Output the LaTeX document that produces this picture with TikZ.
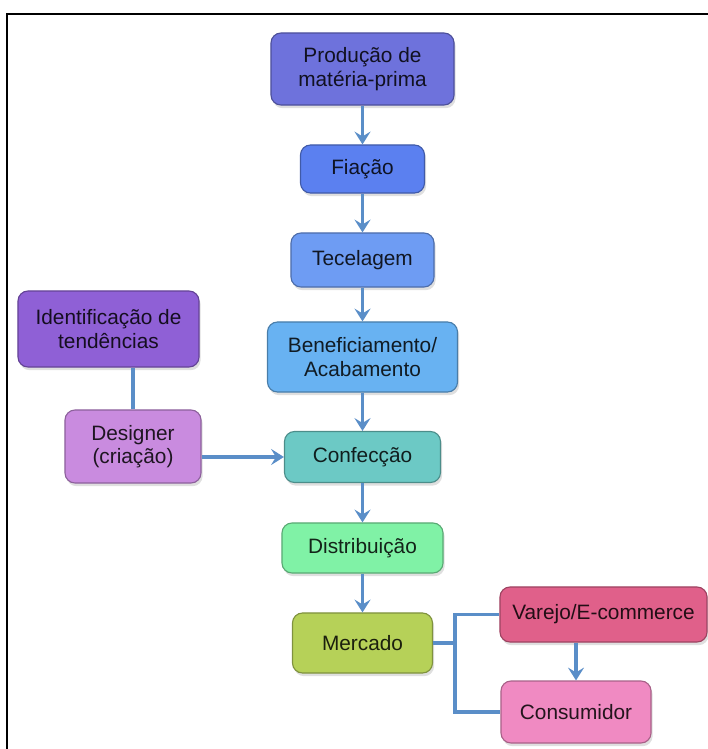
\documentclass[tikz,border=0pt]{standalone}
\usepackage{fontspec}
\setmainfont{Liberation Sans}
\usetikzlibrary{arrows.meta,shadows}

\definecolor{cprod}{HTML}{6E72DC}
\definecolor{cfia}{HTML}{5B80F0}
\definecolor{ctec}{HTML}{6E9CF3}
\definecolor{cben}{HTML}{68B2F2}
\definecolor{cconf}{HTML}{6CC9C5}
\definecolor{cdist}{HTML}{80F2A6}
\definecolor{cmerc}{HTML}{B6D158}
\definecolor{cvar}{HTML}{E0608A}
\definecolor{ccons}{HTML}{F08AC2}
\definecolor{cident}{HTML}{8F60D6}
\definecolor{cdes}{HTML}{C98BDF}
\definecolor{clink}{HTML}{5A8EC8}

\tikzset{
  box/.style={draw=#1!70!black, fill=#1, text=#1!15!black, line width=0.8pt,
    rounded corners=0.25cm, align=center, inner sep=1pt,
    font=\fontsize{14.8}{16.8}\selectfont,
    drop shadow={shadow xshift=0.4mm, shadow yshift=-0.8mm, opacity=0.25}},
  link/.style={draw=clink, line width=2.5pt},
  flow/.style={link, -{Stealth[length=3.2mm,width=4mm,inset=1.2mm]}}
}

\begin{document}
\begin{tikzpicture}[x=0.025cm,y=-0.025cm]
				\useasboundingbox (0,0) rectangle (708,749);
				\draw[line width=1.4pt] (7,749) -- (7,14) -- (708,14);
				% main chain
				\node[box=cprod, minimum width=4.575cm, minimum height=1.8cm] (prod) at (362.5,69) {Produção de\\matéria-prima};
				\node[box=cfia, minimum width=3.1cm, minimum height=1.2cm] (fiacao) at (362.5,169) {Fiação};
				\node[box=ctec, minimum width=3.575cm, minimum height=1.35cm] (tecel) at (362.5,260) {Tecelagem};
				\node[box=cben, minimum width=4.75cm, minimum height=1.75cm] (benef) at (362.5,357) {Beneficiamento/\\Acabamento};
				\node[box=cconf, minimum width=3.9cm, minimum height=1.275cm] (confec) at (362.5,457) {Confecção};
				\node[box=cdist, minimum width=4.025cm, minimum height=1.25cm] (distr) at (362.5,548) {Distribuição};
				\node[box=cmerc, minimum width=3.5cm, minimum height=1.5cm] (merc) at (362.5,643) {Mercado};
				% side boxes
				\node[box=cident, minimum width=4.525cm, minimum height=1.9cm] (ident) at (108.5,329) {Identificação de\\tendências};
				\node[box=cdes, minimum width=3.4cm, minimum height=1.825cm] (design) at (133,446.5) {Designer\\(criação)};
				\node[box=cvar, minimum width=5.175cm, minimum height=1.375cm] (varejo) at (603.5,614.5) {Varejo/E-commerce};
				\node[box=ccons, minimum width=3.75cm, minimum height=1.55cm] (consum) at (576,712) {Consumidor};
				% connectors
				\draw[flow] (prod) -- (fiacao);
				\draw[flow] (fiacao) -- (tecel);
				\draw[flow] (tecel) -- (benef);
				\draw[flow] (benef) -- (confec);
				\draw[flow] (confec) -- (distr);
				\draw[flow] (distr) -- (merc);
				\draw[link] (design) -- (design |- ident.south);
				\draw[flow] (design.east |- confec) -- (confec.west);
				\draw[link] (merc.east) -- ++(22,0) |- (varejo.west);
				\draw[link] (merc.east) -- ++(22,0) |- (consum.west);
				\draw[flow] (varejo.south -| consum.north) -- (consum.north);
		\end{tikzpicture}
\end{document}
